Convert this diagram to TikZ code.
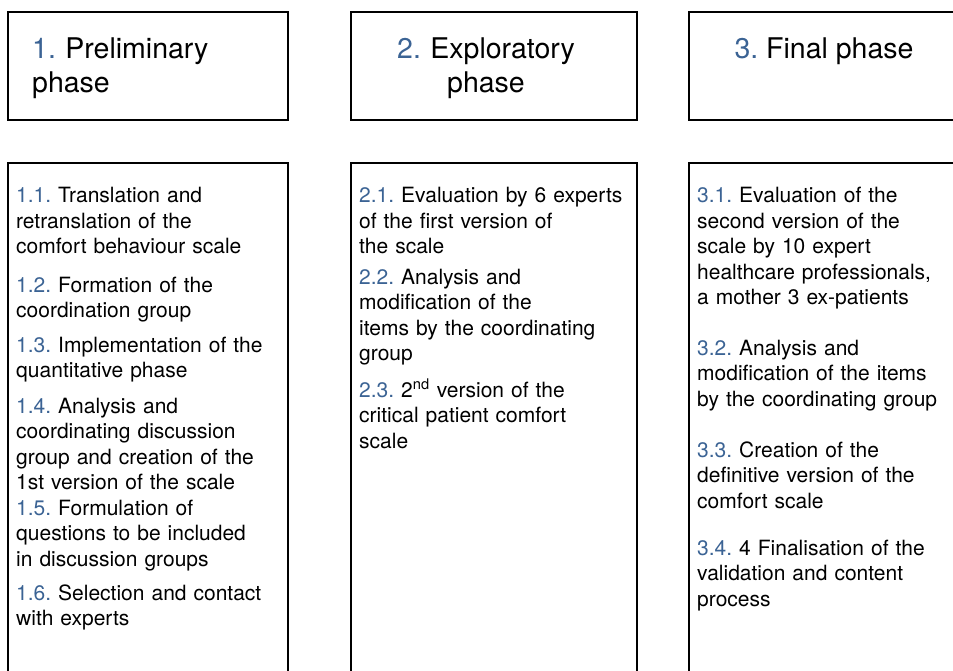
\documentclass[tikz,border=0pt]{standalone}
\usepackage{fontspec}
\setmainfont{TeX Gyre Heros}
\usepackage{xcolor}
\definecolor{PhaseBlue}{RGB}{59,99,148}
\usetikzlibrary{math}
\tikzset{%
  pixel grid/.style={x=1pt,y=-1pt},
  phase box/.style={draw=black,line width=1.8pt,inner sep=0pt},
  head text/.style={inner sep=0pt,font=\fontsize{28.5}{34}\selectfont},
  step text/.style={inner sep=0pt,anchor=base west,align=left,text width=275pt,
    font=\fontsize{21}{25.5}\selectfont}
}
\newcommand*{\stepnum}[1]{\textcolor{PhaseBlue}{#1}}
\frenchspacing

\begin{document}
\begin{tikzpicture}[pixel grid]
    \tikzmath{
      \colA=8;  \widA=280;% column 1
      \colB=351;\widB=286;% column 2
      \colC=689;\widC=286;% column 3
      \headH=108;% header height
      \bodyH=537;% body height (runs off the page)
    }
    \clip (0,0) rectangle (953,671);
    % Header boxes.
    \node[phase box,minimum width=\widA pt,minimum height=\headH pt] (head1) at (\colA+\widA/2,12+\headH/2) {};
    \node[phase box,minimum width=\widB pt,minimum height=\headH pt] (head2) at (\colB+\widB/2,12+\headH/2) {};
    \node[phase box,minimum width=\widC pt,minimum height=\headH pt] (head3) at (\colC+\widC/2,12+\headH/2) {};
    \node[head text,anchor=base west,align=left,text width=240pt] (title1) at (32,58.5)
      {\stepnum{1.} Preliminary\\phase};
    \node[head text,anchor=base,align=center,text width=240pt] (title2) at (486,58.5)
      {\stepnum{2.} Exploratory\\phase};
    \node[head text,anchor=base] (title3) at (824,58.5) {\stepnum{3.} Final phase};
    % Body boxes.
    \node[phase box,minimum width=\widA pt,minimum height=\bodyH pt] (body1) at (\colA+\widA/2,163+\bodyH/2) {};
    \node[phase box,minimum width=\widB pt,minimum height=\bodyH pt] (body2) at (\colB+\widB/2,163+\bodyH/2) {};
    \node[phase box,minimum width=\widC pt,minimum height=\bodyH pt] (body3) at (\colC+\widC/2,163+\bodyH/2) {};
    % Phase 1 steps.
    \node[step text] (s11) at (16,203) {\stepnum{1.1.} Translation and\\retranslation of the\\comfort behaviour scale};
    \node[step text] (s12) at (16,292) {\stepnum{1.2.} Formation of the\\coordination group};
    \node[step text] (s13) at (16,352) {\stepnum{1.3.} Implementation of the\\quantitative phase};
    \node[step text] (s14) at (16,413) {\stepnum{1.4.} Analysis and\\coordinating discussion\\group and creation of the\\1st version of the scale};
    \node[step text] (s15) at (16,515) {\stepnum{1.5.} Formulation of\\questions to be included\\in discussion groups};
    \node[step text] (s16) at (16,600) {\stepnum{1.6.} Selection and contact\\with experts};
    % Phase 2 steps.
    \node[step text] (s21) at (359,203) {\stepnum{2.1.} Evaluation by 6 experts\\of the first version of\\the scale};
    \node[step text] (s22) at (359,284) {\stepnum{2.2.} Analysis and\\modification of the\\items by the coordinating\\group};
    \node[step text] (s23) at (359,397) {\stepnum{2.3.} 2\textsuperscript{nd} version of the\\critical patient comfort\\scale};
    % Phase 3 steps.
    \node[step text] (s31) at (697,203) {\stepnum{3.1.} Evaluation of the\\second version of the\\scale by 10 expert\\healthcare professionals,\\a mother 3 ex-patients};
    \node[step text] (s32) at (697,355) {\stepnum{3.2.} Analysis and\\modification of the items\\by the coordinating group};
    \node[step text] (s33) at (697,457) {\stepnum{3.3.} Creation of the\\definitive version of the\\comfort scale};
    \node[step text] (s34) at (697,555) {\stepnum{3.4.} 4 Finalisation of the\\validation and content\\process};
\end{tikzpicture}
\end{document}
